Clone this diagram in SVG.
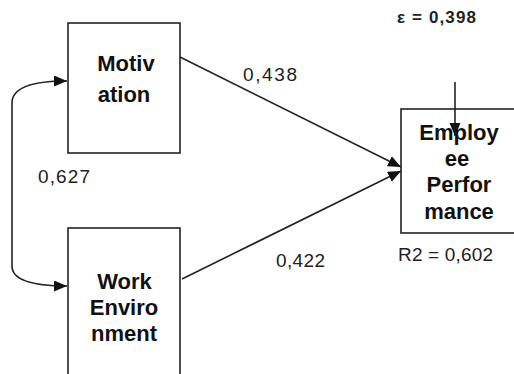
<svg xmlns="http://www.w3.org/2000/svg" width="514" height="374" viewBox="0 0 514 374">
<style>
.box{fill:#fff;stroke:#222;stroke-width:1.6}
.nt{font-family:"Liberation Sans",Arial,sans-serif;font-weight:bold;font-size:22px;fill:#111;text-anchor:middle}
.lb{font-family:"Liberation Sans",Arial,sans-serif;font-size:19px;fill:#222}
.con{fill:none;stroke:#222;stroke-width:1.6}
</style>
<defs>
<marker id="ah" markerUnits="userSpaceOnUse" markerWidth="14" markerHeight="12" refX="13" refY="5.5" orient="auto-start-reverse">
<path d="M0,0 L13,5.5 L0,11 z" fill="#111"/>
</marker>
</defs>
<g id="motivation">
<rect class="box" x="68" y="23" width="112" height="130"/>
<text class="nt" x="126" y="71">Motiv</text>
<text class="nt" x="124" y="102">ation</text>
</g>
<g id="work-environment">
<rect class="box" x="68" y="228" width="112" height="160"/>
<text class="nt" x="124.5" y="289">Work</text>
<text class="nt" x="124" y="315">Enviro</text>
<text class="nt" x="124" y="341">nment</text>
</g>
<g id="employee-performance">
<rect class="box" x="401" y="109" width="130" height="124"/>
<text class="nt" x="459" y="140">Employ</text>
<text class="nt" x="457" y="166">ee</text>
<text class="nt" x="459" y="192">Perfor</text>
<text class="nt" x="459" y="219">mance</text>
</g>
<g id="connectors">
<line class="con" x1="180" y1="57" x2="401" y2="167" marker-end="url(#ah)"/>
<line class="con" x1="182" y1="279" x2="401" y2="171" marker-end="url(#ah)"/>
<path class="con" d="M67,81 C32,81 12,88 12,103 L12,266 C12,280 32,286 67,286" marker-start="url(#ah)" marker-end="url(#ah)"/>
<line class="con" x1="455" y1="82" x2="455" y2="136" marker-end="url(#ah)"/>
</g>
<g id="labels">
<text class="lb" x="243" y="81" textLength="54" lengthAdjust="spacing">0,438</text>
<text class="lb" x="38" y="183" textLength="52" lengthAdjust="spacing">0,627</text>
<text class="lb" x="276" y="267" textLength="49" lengthAdjust="spacing">0,422</text>
<text class="lb" x="398" y="261" textLength="95" lengthAdjust="spacing">R2 = 0,602</text>
<text class="lb" x="397" y="23" style="font-weight:bold;font-size:17px" textLength="79" lengthAdjust="spacing">ε = 0,398</text>
</g>
</svg>
